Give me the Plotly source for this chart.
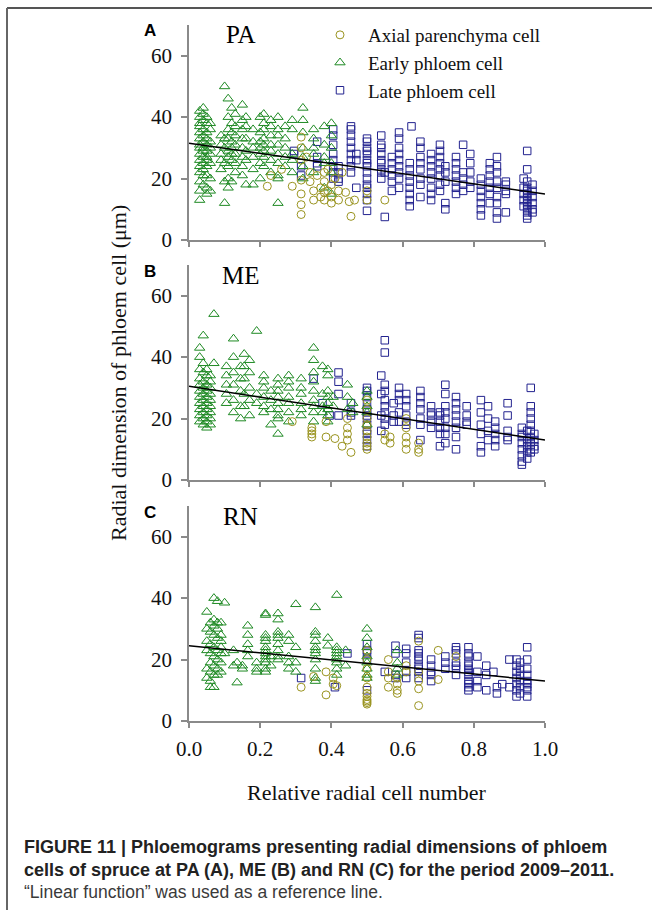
import plotly.graph_objects as go

W, H = 652, 910

# ---------------- DATA ----------------
# Each series: column x positions and the y values (µm) observed in that column
pa_early_cols = [0.03, 0.04, 0.05, 0.06, 0.09, 0.10, 0.11, 0.12, 0.13, 0.15, 0.16, 0.18,
                 0.20, 0.21, 0.23, 0.25, 0.27, 0.29, 0.32, 0.35, 0.38, 0.40]
pa_early_vals = [[42, 40, 38, 37, 35, 33, 31, 30, 28, 26, 24, 22, 19, 16, 13],
                 [43, 41, 39, 36, 34, 32, 30, 29, 27, 25, 23, 21, 18],
                 [40, 38, 35, 33, 31, 29, 27, 26, 24, 21, 17, 15],
                 [38, 36, 32, 30, 28, 25, 20, 16],
                 [34, 31, 28, 26, 23],
                 [50, 33, 30, 25, 19, 12],
                 [46, 40, 36, 33, 29, 27, 24, 20, 17],
                 [43, 38, 35, 32, 30, 28, 26, 19],
                 [41, 37, 34, 31, 28, 25, 22],
                 [44, 39, 36, 33, 30, 27, 24, 21],
                 [40, 37, 33, 29, 26, 18],
                 [36, 32, 30, 27, 23, 18],
                 [40, 35, 32, 30, 28, 25, 20],
                 [41, 38, 36, 33, 31, 29, 27, 24],
                 [39, 37, 34, 31, 29, 26, 22],
                 [40, 36, 34, 31, 28, 25, 21, 20, 12],
                 [37, 33, 30, 27, 24],
                 [39, 36, 28, 26, 22],
                 [43, 39, 35, 30, 27, 24, 20],
                 [36, 33, 30, 28, 22],
                 [37, 31, 27, 25, 17],
                 [38, 34, 30, 25, 22, 15]]

pa_axial_cols = [0.22, 0.23, 0.26, 0.29, 0.315, 0.33, 0.34, 0.35, 0.36, 0.37, 0.38, 0.39,
                 0.40, 0.41, 0.42, 0.43, 0.44, 0.45, 0.455, 0.465, 0.50, 0.55]
pa_axial_vals = [[17.5], [21], [23], [17.5], [33.5, 30, 26, 19.5, 15, 11.5, 8.3], [27], [22, 19],
                 [16, 13], [21], [17, 14], [22, 19, 15.5, 13], [23, 16], [18, 14, 12], [20],
                 [16, 13], [22], [15.5], [12.5], [7.7], [13], [16, 13], [13]]

pa_late_cols = [0.295, 0.315, 0.36, 0.405, 0.42, 0.455, 0.47, 0.50, 0.54, 0.55, 0.57, 0.59,
                0.62, 0.625, 0.65, 0.68, 0.705, 0.72, 0.75, 0.77, 0.79, 0.82, 0.845, 0.865,
                0.89, 0.94, 0.95, 0.965]
pa_late_vals = [[28, 29], [24, 21], [32, 27, 25, 24], [36, 34, 31, 28, 26, 24, 22, 20],
                [24, 22, 20, 19], [37, 36, 34, 32, 30, 28, 26, 24, 22], [28, 26, 17],
                [33, 32, 30, 29, 28, 26, 25, 24, 22, 20, 18, 17, 15, 13, 9.5],
                [34, 31, 30, 28, 26, 25, 23, 22, 20], [22, 7.5], [27, 25, 23, 21, 19, 16],
                [35, 33, 30, 28, 26, 24, 22, 20, 17], [25, 23, 21, 19, 17, 15, 13, 11], [37],
                [32, 30, 27, 25, 23, 20, 18, 14], [28, 26, 24, 22, 20, 17, 15, 13],
                [31, 29, 27, 25, 23, 21, 18, 16], [24, 22, 19, 12, 10],
                [27, 25, 23, 21, 19, 17, 15], [31, 22, 20, 18, 16], [28, 25, 22, 19, 17],
                [20, 18, 16, 14, 12, 10, 8], [25, 23, 21, 19, 17, 15, 12],
                [27, 24, 22, 19, 17, 14, 12, 9, 7], [19, 18, 16, 15, 9], [20, 17, 15, 13, 11],
                [29, 23, 19, 17, 16, 15, 14, 13, 12, 11, 10, 9, 8, 7], [18, 16, 14, 12, 10, 9]]

me_early_cols = [0.03, 0.04, 0.05, 0.06, 0.07, 0.105, 0.125, 0.145, 0.155, 0.17, 0.19, 0.21,
                 0.23, 0.25, 0.28, 0.315, 0.35, 0.375, 0.39, 0.405, 0.445, 0.46, 0.50]
me_early_vals = [[43, 40, 36, 33, 31, 29, 27, 25, 23, 21, 19],
                 [47, 38, 35, 32, 30, 28, 26, 24, 22, 20, 18],
                 [36, 34, 31, 29, 27, 25, 23, 21, 19, 17],
                 [34, 32, 30, 28, 26, 24, 22, 20, 18],
                 [54, 38],
                 [37, 34, 31, 28, 25],
                 [46, 40, 35, 31, 26, 22],
                 [37, 33, 29, 24, 20],
                 [41, 37, 33, 28, 24],
                 [39, 35, 30, 26, 21],
                 [48.5, 28, 25],
                 [34, 32, 30, 27, 24, 22],
                 [29, 26, 23, 18],
                 [33, 31, 29, 27, 25, 23, 21, 20, 15],
                 [34, 32, 30, 27, 25, 22, 19],
                 [33, 30, 28, 25, 23, 21],
                 [43, 39, 35, 32, 29, 26, 24, 22, 19],
                 [37, 28, 24, 22],
                 [36, 34, 29, 27, 25, 23, 21, 19],
                 [27, 24],
                 [31, 27, 23],
                 [25, 22],
                 [29, 27, 24, 22, 18]]

me_axial_cols = [0.29, 0.345, 0.385, 0.41, 0.43, 0.445, 0.455, 0.50, 0.55, 0.565, 0.61, 0.645]
me_axial_vals = [[19], [17, 16, 15, 14], [19, 14], [13.5], [11], [20, 17, 15, 13], [9],
                 [26, 23, 20, 18, 16, 14, 12, 11, 10], [15, 13], [14, 12],
                 [20, 17, 14, 12, 10], [12, 10, 9]]

me_late_cols = [0.35, 0.375, 0.395, 0.42, 0.455, 0.50, 0.54, 0.55, 0.575, 0.59, 0.61, 0.65,
                0.68, 0.705, 0.72, 0.75, 0.78, 0.82, 0.84, 0.86, 0.895, 0.935, 0.95, 0.96, 0.97]
me_late_vals = [[33], [25], [21], [35, 32, 28, 21], [25, 22, 21],
                [30, 29, 27, 25, 23, 22, 21, 20, 18, 16, 15, 13, 11],
                [34, 28, 21, 16], [45.5, 41.5, 31, 29, 26, 24, 22, 20, 18], [25, 21, 19],
                [30, 28, 26, 22, 19], [28, 26, 24, 21, 19, 18], [29, 27, 25, 23, 20, 18, 13],
                [24, 22, 21, 19, 17], [22, 21, 19, 17, 15, 11],
                [31, 28, 24, 22, 20, 17, 15, 12], [27, 25, 23, 21, 19, 17, 14, 10],
                [24, 21, 19, 18], [26, 22, 18, 15, 11, 9], [24, 20, 16, 13],
                [19, 17, 15, 13, 11], [25, 21, 16, 14, 13], [17, 15, 14, 12, 10, 8, 6, 5],
                [16, 13, 11, 9, 7], [30, 24, 22, 20, 18, 16, 14, 12, 10, 9], [15, 13, 11, 10]]

rn_early_cols = [0.05, 0.06, 0.07, 0.08, 0.09, 0.10, 0.125, 0.135, 0.15, 0.165, 0.19, 0.215,
                 0.23, 0.25, 0.28, 0.30, 0.355, 0.39, 0.415, 0.44, 0.50, 0.585]
rn_early_vals = [[35.5, 30, 26, 23, 17, 14],
                 [32, 29, 25, 22, 19, 16, 13, 11],
                 [40, 33, 31, 28, 24, 21, 18, 15, 11],
                 [39, 32, 30, 27, 23, 20, 17, 15],
                 [32, 28, 26, 24, 22, 19, 16],
                 [38.5, 22],
                 [23, 18],
                 [19, 12.5],
                 [17, 18],
                 [31, 28, 25, 23, 21],
                 [19, 17, 16],
                 [35, 34.5, 28, 27, 26, 24, 23, 22, 21, 20, 19, 17, 16],
                 [21, 18],
                 [35, 33, 29, 28, 27, 25, 23, 21, 20],
                 [28, 26, 21, 19, 17],
                 [38, 24, 19, 16],
                 [37, 29, 28, 26, 24, 23, 22, 20, 17, 14, 13],
                 [27, 24.5],
                 [41, 24, 23, 22, 21, 20, 19, 17, 15],
                 [23, 18],
                 [30, 27, 24, 21, 19, 17, 15, 14],
                 [23, 19, 17, 15]]

rn_axial_cols = [0.315, 0.35, 0.385, 0.405, 0.415, 0.50, 0.56, 0.585, 0.61, 0.645, 0.70, 0.75]
rn_axial_vals = [[11], [14.5], [16, 8.5], [14, 12], [11.5],
                 [23, 20, 17, 14, 11, 9, 8, 7, 6.5, 6, 5.5], [20, 16, 14, 11],
                 [14, 12, 10, 9], [18, 16], [26, 16, 13, 10.5, 5], [23, 13.5], [21]]

rn_late_cols = [0.315, 0.41, 0.445, 0.50, 0.55, 0.58, 0.61, 0.645, 0.68, 0.72, 0.75, 0.785,
                0.81, 0.835, 0.855, 0.865, 0.88, 0.90, 0.92, 0.93, 0.95]
rn_late_vals = [[14], [11], [22], [25, 23, 22, 20, 10], [16], [24.5, 22, 15, 14],
                [23.5, 22, 19, 16, 14], [28, 27, 23, 22, 21, 20, 18, 17, 16, 14],
                [20, 18, 16, 15, 13], [21, 19, 17], [24, 23, 22, 19, 18, 17, 15],
                [24, 22, 21, 19, 18, 17, 16, 15, 13, 12, 11, 10], [21, 16, 13, 11],
                [18, 15, 10], [16], [11, 9], [12], [20, 11],
                [20, 18, 16, 14, 12, 10, 8], [19, 17, 15, 13, 11, 9],
                [24, 20, 17, 15, 13, 12, 11, 10, 8]]

# Reference ("linear function") lines: y at x = 0 and x = 1
fit_x = [0.0, 1.0]
pa_fit = [31.5, 15.0]
me_fit = [30.5, 13.0]
rn_fit = [24.5, 13.0]

series_names = ["Axial parenchyma cell", "Early phloem cell", "Late phloem cell"]
panel_sites = ["PA", "ME", "RN"]
panel_letters = ["A", "B", "C"]
y_ticks = [0, 20, 40, 60]
x_ticks = [0.0, 0.2, 0.4, 0.6, 0.8, 1.0]
x_tick_labels = ["0.0", "0.2", "0.4", "0.6", "0.8", "1.0"]

# ---------------- STYLE ----------------
col_axial = "#9a9420"
col_early = "#1f8a24"
col_late = "#23238f"
serif = "Liberation Serif, Times New Roman, serif"
sans = "Liberation Sans, Arial, sans-serif"
axis_grey = "#8a8a8a"


def expand(cols, vals):
    xs, ys = [], []
    for c, vs in zip(cols, vals):
        for v in vs:
            xs.append(c)
            ys.append(v)
    return xs, ys


def px_x(p):
    return p / W


def px_y(p):
    return 1 - p / H


panels = [
    (pa_axial_cols, pa_axial_vals, pa_early_cols, pa_early_vals, pa_late_cols, pa_late_vals, pa_fit),
    (me_axial_cols, me_axial_vals, me_early_cols, me_early_vals, me_late_cols, me_late_vals, me_fit),
    (rn_axial_cols, rn_axial_vals, rn_early_cols, rn_early_vals, rn_late_cols, rn_late_vals, rn_fit),
]

# pixel geometry of each panel's plot area (top, bottom)
x_left, x_right = 189, 545
panel_px = [(25, 240), (265, 480), (506, 721)]

fig = go.Figure()
layout = dict(
    width=W, height=H,
    margin=dict(l=0, r=0, t=0, b=0, autoexpand=False),
    paper_bgcolor="white", plot_bgcolor="rgba(0,0,0,0)",
    showlegend=True,
)


def note(text, x, y, size, family, color="#111", xanchor="center", angle=0):
    return dict(text=text, x=px_x(x), y=px_y(y), xref="paper", yref="paper",
                xanchor=xanchor, yanchor="middle", textangle=angle, showarrow=False,
                font=dict(family=family, size=size, color=color))


annotations = []
for i, (acols, avals, ecols, evals, lcols, lvals, fit) in enumerate(panels):
    xa = "x" if i == 0 else f"x{i+1}"
    ya = "y" if i == 0 else f"y{i+1}"
    first = (i == 0)
    lx, ly = expand(lcols, lvals)
    ex, ey = expand(ecols, evals)
    ax_, ay_ = expand(acols, avals)
    fig.add_trace(go.Scatter(x=lx, y=ly, mode="markers", name=series_names[2],
                             xaxis=xa, yaxis=ya, showlegend=first, legendrank=3,
                             marker=dict(symbol="square-open", size=7.5, color=col_late,
                                         line=dict(width=1, color=col_late))))
    fig.add_trace(go.Scatter(x=ex, y=ey, mode="markers", name=series_names[1],
                             xaxis=xa, yaxis=ya, showlegend=first, legendrank=2,
                             marker=dict(symbol="triangle-up-open", size=9, color=col_early,
                                         line=dict(width=1, color=col_early))))
    fig.add_trace(go.Scatter(x=ax_, y=ay_, mode="markers", name=series_names[0],
                             xaxis=xa, yaxis=ya, showlegend=first, legendrank=1,
                             marker=dict(symbol="circle-open", size=8, color=col_axial,
                                         line=dict(width=1, color=col_axial))))
    fig.add_trace(go.Scatter(x=fit_x, y=fit, mode="lines", xaxis=xa, yaxis=ya,
                             showlegend=False, hoverinfo="skip",
                             line=dict(color="black", width=1.5)))

    top, bot = panel_px[i]
    last = (i == 2)
    layout["xaxis" if i == 0 else f"xaxis{i+1}"] = dict(
        domain=[px_x(x_left), px_x(x_right)], anchor=ya, range=[0, 1], automargin=False,
        tickvals=x_ticks, ticktext=x_tick_labels, showticklabels=last,
        ticks="outside", ticklen=5, tickwidth=1.5, tickcolor=axis_grey,
        showline=True, linecolor=axis_grey, linewidth=1.5, showgrid=False, zeroline=False,
        tickfont=dict(family=serif, size=21, color="#111"), ticklabelstandoff=3,
    )
    layout["yaxis" if i == 0 else f"yaxis{i+1}"] = dict(
        domain=[px_y(bot), px_y(top)], anchor=xa, range=[0, 70], automargin=False,
        tickvals=y_ticks, ticks="outside", ticklen=6, tickwidth=1.5, tickcolor=axis_grey,
        showline=True, linecolor=axis_grey, linewidth=1.5, showgrid=False, zeroline=False,
        tickfont=dict(family=serif, size=21, color="#111"), ticklabelstandoff=5,
    )
    annotations.append(note(f"<b>{panel_letters[i]}</b>", 150, top + 6, 17, sans, "black"))
    annotations.append(note(panel_sites[i], 241, top + 10, 25, serif, "black"))

annotations.append(note("Radial dimension of phloem cell (μm)", 118, 373, 22, serif, angle=-90))
annotations.append(note("Relative radial cell number", 367, 792, 22, serif))
annotations.append(note("<b>FIGURE 11 | Phloemograms presenting radial dimensions of phloem</b>",
                        22, 847, 18, sans, "#222", xanchor="left"))
annotations.append(note("<b>cells of spruce at PA (A), ME (B) and RN (C) for the period 2009–2011.</b>",
                        22, 870, 18, sans, "#222", xanchor="left"))
annotations.append(note("“Linear function” was used as a reference line.",
                        22, 892, 17.5, sans, "#3a3a3a", xanchor="left"))

layout["annotations"] = annotations
layout["legend"] = dict(x=px_x(312), y=px_y(16), xanchor="left", yanchor="top",
                        bgcolor="rgba(0,0,0,0)", font=dict(family=serif, size=19, color="#111"),
                        itemwidth=46, tracegroupgap=0)
layout["shapes"] = [
    dict(type="line", xref="paper", yref="paper", x0=px_x(7), x1=1, y0=px_y(8), y1=px_y(8),
         line=dict(color="#555", width=2)),
    dict(type="line", xref="paper", yref="paper", x0=px_x(7), x1=px_x(7), y0=px_y(8), y1=0,
         line=dict(color="#666", width=2)),
]
fig.update_layout(**layout)
fig.write_html("out.html", config={"displayModeBar": False},
               post_script="document.body.style.margin='0';")
